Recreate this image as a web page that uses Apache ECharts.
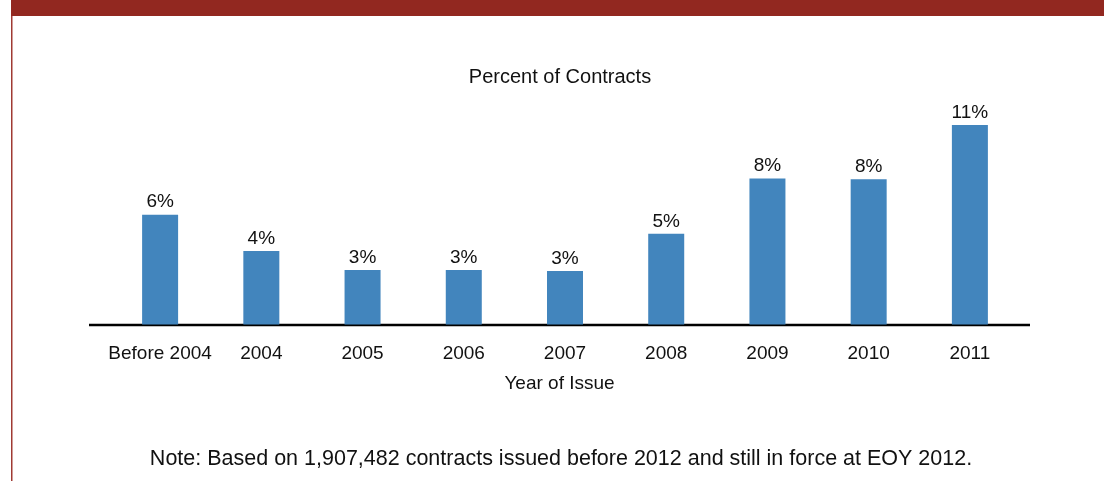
<!DOCTYPE html>
<html>
<head>
<meta charset="utf-8">
<script src="https://cdn.jsdelivr.net/npm/echarts@6/dist/echarts.min.js"></script>
<style>
html,body{margin:0;padding:0;background:#fff;}
#chart{width:1104px;height:481px;}
</style>
</head>
<body>
<div id="chart"></div>
<script>
const categories = ['Before 2004', '2004', '2005', '2006', '2007', '2008', '2009', '2010', '2011'];
const percentValues = [6.05, 4.05, 3.0, 3.0, 2.95, 5.0, 8.05, 8.0, 11.0];
const chartTitle = 'Percent of Contracts';
const xAxisTitle = 'Year of Issue';
const noteText = 'Note: Based on 1,907,482 contracts issued before 2012 and still in force at EOY 2012.';

const FONT = '"Liberation Sans", Arial, sans-serif';
const chart = echarts.init(document.getElementById('chart'));
chart.setOption({
  backgroundColor: '#ffffff',
  animation: false,
  title: {
    text: chartTitle,
    left: 555, top: 62, textAlign: 'center',
    textStyle: { fontFamily: FONT, fontSize: 20, fontWeight: 'normal', color: '#111' }
  },
  grid: { left: 109.5, right: 83.5, top: 106.8, bottom: 156.5, containLabel: false },
  xAxis: {
    type: 'category',
    data: categories,
    name: xAxisTitle,
    nameLocation: 'middle',
    nameGap: 50,
    nameTextStyle: { fontFamily: FONT, fontSize: 19, color: '#111', padding: [0, 0, 0, -11] },
    axisLine: { show: false },
    axisTick: { show: false },
    axisLabel: { fontFamily: FONT, fontSize: 19, color: '#111', margin: 20, interval: 0 }
  },
  yAxis: {
    type: 'value', min: 0, max: 12,
    show: false
  },
  series: [{
    type: 'bar',
    data: percentValues,
    barWidth: 36,
    itemStyle: { color: '#4285bd' },
    label: {
      show: true, position: 'top', distance: 3,
      formatter: p => Math.round(p.value) + '%',
      fontFamily: FONT, fontSize: 19, color: '#111'
    }
  }],
  graphic: [
    { type: 'rect', shape: { x: 11, y: 0, width: 1093, height: 16 }, style: { fill: '#922820' } },
    { type: 'rect', shape: { x: 11, y: 16, width: 1.5, height: 465 }, style: { fill: '#a03a33' } },
    { type: 'line', shape: { x1: 89, y1: 325, x2: 1030, y2: 325 }, style: { stroke: '#000', lineWidth: 2.5 } },
    { type: 'text', x: 561, y: 459, style: { text: noteText, fontFamily: FONT, fontSize: 21.5, fill: '#111', textAlign: 'center', textVerticalAlign: 'middle' } }
  ]
});
</script>
</body>
</html>
